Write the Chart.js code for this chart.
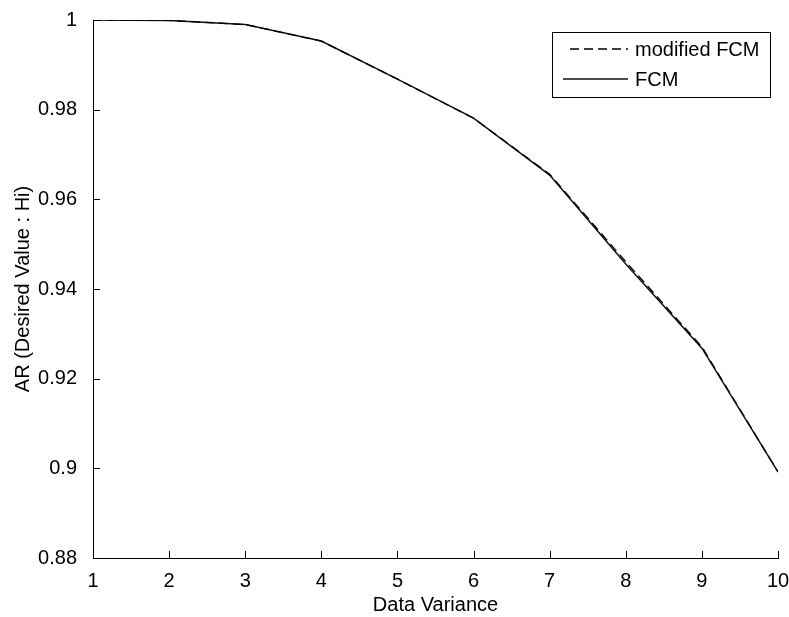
<!DOCTYPE html>
<html>
<head>
<meta charset="utf-8">
<script src="https://cdn.jsdelivr.net/npm/chart.js@4/dist/chart.umd.min.js"></script>
<style>
  body { margin: 0; background: #fff; }
  canvas { display: block; }
</style>
</head>
<body>
<canvas id="variance-chart" width="789" height="617"></canvas>
<script>
// data variance on the x axis
const variance = [1, 2, 3, 4, 5, 6, 7, 8, 9, 10];
// AR values for each method
const modifiedFcm = [1.0, 0.9999, 0.9990, 0.9953, 0.9868, 0.9781, 0.9656, 0.9461, 0.9271, 0.8992];
const fcm = [1.0, 0.9999, 0.9990, 0.9953, 0.9868, 0.9781, 0.9654, 0.9456, 0.9268, 0.8992];
const seriesNames = ['modified FCM', 'FCM'];

const FONT = "'Liberation Sans', Arial, sans-serif";

// matlab style ticks pointing into the axes
const innerTicks = {
    id: 'innerTicks',
    afterDraw(chart) {
        const ctx = chart.ctx;
        const xs = chart.scales.x;
        const ys = chart.scales.y;
        const area = chart.chartArea;
        ctx.save();
        ctx.strokeStyle = '#000';
        ctx.lineWidth = 1;
        ctx.beginPath();
        xs.ticks.forEach((t, i) => {
            const px = Math.round(xs.getPixelForTick(i)) + 0.5;
            ctx.moveTo(px, area.bottom);
            ctx.lineTo(px, area.bottom - 7);
        });
        ys.ticks.forEach((t, i) => {
            const py = Math.round(ys.getPixelForTick(i)) + 0.5;
            ctx.moveTo(area.left, py);
            ctx.lineTo(area.left + 7, py);
        });
        ctx.stroke();
        ctx.restore();
    }
};

// boxed legend in the upper right corner
const boxLegend = {
    id: 'boxLegend',
    afterDraw(chart) {
        const ctx = chart.ctx;
        const box = { left: 552, top: 32, right: 770, bottom: 97 };
        ctx.save();
        ctx.fillStyle = '#fff';
        ctx.fillRect(box.left, box.top, box.right - box.left, box.bottom - box.top);
        ctx.strokeStyle = '#000';
        ctx.lineWidth = 1;
        ctx.strokeRect(box.left + 0.5, box.top + 0.5, box.right - box.left, box.bottom - box.top);
        const rows = [49, 79];
        chart.data.datasets.forEach((ds, i) => {
            ctx.beginPath();
            ctx.setLineDash(ds.borderDash || []);
            ctx.lineWidth = ds.borderWidth;
            ctx.strokeStyle = ds.borderColor;
            ctx.moveTo(i === 0 ? 570 : 563, rows[i]);
            ctx.lineTo(628, rows[i]);
            ctx.stroke();
            ctx.setLineDash([]);
            ctx.fillStyle = '#000';
            ctx.font = '20px ' + FONT;
            ctx.textBaseline = 'middle';
            ctx.fillText(ds.label, 635, rows[i] + 1);
        });
        ctx.restore();
    }
};

new Chart(document.getElementById('variance-chart').getContext('2d'), {
    type: 'line',
    data: {
        datasets: [
            {
                label: seriesNames[0],
                data: variance.map((v, i) => ({ x: v, y: modifiedFcm[i] })),
                borderColor: '#000',
                borderWidth: 1.3,
                borderDash: [9, 5],
                pointRadius: 0,
                tension: 0,
                fill: false
            },
            {
                label: seriesNames[1],
                data: variance.map((v, i) => ({ x: v, y: fcm[i] })),
                borderColor: '#111',
                borderWidth: 1.5,
                pointRadius: 0,
                tension: 0,
                fill: false
            }
        ]
    },
    options: {
        responsive: false,
        animation: false,
        layout: { padding: { top: 20, right: 11, left: 0, bottom: 0 } },
        plugins: {
            legend: { display: false },
            tooltip: { enabled: false }
        },
        scales: {
            x: {
                type: 'linear',
                min: 1,
                max: 10,
                ticks: {
                    stepSize: 1,
                    padding: 3,
                    color: '#000',
                    font: { family: FONT, size: 20 }
                },
                grid: { display: false },
                border: { display: true, color: '#000', width: 1 },
                title: {
                    display: true,
                    text: 'Data Variance',
                    color: '#000',
                    font: { family: FONT, size: 20 },
                    padding: { top: 5, bottom: 0 }
                },
                afterFit(scale) {
                    scale.height = 59;
                    scale.paddingLeft = 0;
                    scale.paddingRight = 0;
                }
            },
            y: {
                min: 0.88,
                max: 1,
                ticks: {
                    stepSize: 0.02,
                    padding: 8,
                    color: '#000',
                    font: { family: FONT, size: 20 },
                    callback: v => String(Number(v.toFixed(2)))
                },
                grid: { display: false },
                border: { display: true, color: '#000', width: 1 },
                title: {
                    display: true,
                    text: 'AR (Desired Value : Hi)',
                    color: '#000',
                    font: { family: FONT, size: 20 },
                    padding: { top: 11, bottom: 0 }
                },
                afterFit(scale) { scale.width = 93; }
            }
        }
    },
    plugins: [innerTicks, boxLegend]
});
</script>
</body>
</html>
